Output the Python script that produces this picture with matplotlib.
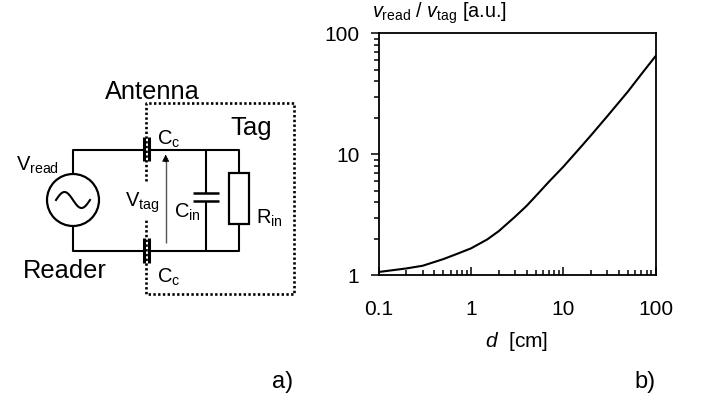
import matplotlib
matplotlib.use("Agg")
import matplotlib.pyplot as plt
from matplotlib.patches import Circle, Rectangle
from matplotlib.ticker import FixedLocator, FixedFormatter, NullFormatter
import numpy as np

plt.rcParams['font.family'] = ['Liberation Sans', 'DejaVu Sans']
plt.rcParams['mathtext.fontset'] = 'custom'
plt.rcParams['mathtext.rm'] = 'Liberation Sans'
plt.rcParams['mathtext.it'] = 'Liberation Sans:italic'
plt.rcParams['mathtext.default'] = 'regular'

# curve
d_cm = [0.1, 0.2, 0.3, 0.5, 0.7, 1, 1.5, 2, 3, 4, 5, 7, 10, 15, 20, 30, 50, 70, 100]
ratio = [1.065, 1.14, 1.2, 1.36, 1.5, 1.67, 1.98, 2.32, 3.05, 3.75, 4.5, 5.95, 7.9, 11.2, 14.4, 20.7, 33, 46, 65]
x_ticks = [0.1, 1, 10, 100]
x_labels = ['0.1', '1', '10', '100']
y_ticks = [1, 10, 100]
y_labels = ['1', '10', '100']

W, H = 701, 400
fig = plt.figure(figsize=(W / 100, H / 100), dpi=100)

# a) circuit, drawn in pixel coordinates
sk = fig.add_axes([0, 0, 1, 1])
sk.set_xlim(0, W)
sk.set_ylim(H, 0)
sk.axis('off')

def wire(xs, ys, lw=1.5, color='black', **kw):
    sk.plot(xs, ys, color=color, lw=lw, solid_capstyle='butt', **kw)

top, bot = 149.5, 251
wire([73, 73, 143], [174, top, top])
wire([149, 239, 239], [top, top, 173])
wire([73, 73, 143], [226, bot, bot])
wire([149, 239, 239], [bot, bot, 224])
wire([205.5, 205.5], [top, 193])
wire([205.5, 205.5], [201, bot])

# coupling capacitors
for y0, y1 in [(136.5, 161), (238, 263)]:
    wire([143.5, 143.5], [y0, y1], lw=2.2)
    wire([149, 149], [y0, y1], lw=2.2)

# input capacitor
wire([193, 219], [193, 193], lw=1.8)
wire([193, 219], [200.5, 200.5], lw=1.8)

# resistor
sk.add_patch(Rectangle((228.5, 173), 20.5, 51, fc='white', ec='black', lw=1.6, zorder=3))

# source
sk.add_patch(Circle((73, 200), 26, fc='white', ec='black', lw=1.6, zorder=3))
t = np.linspace(0, 2 * np.pi, 80)
sk.plot(73 + 17 * (t / np.pi - 1), 200 - 8 * np.sin(t), color='black', lw=1.5, zorder=4)

# dotted box of the tag
dot = dict(color='black', lw=1.9, ls=(0, (0.9, 0.9)), zorder=5)
sk.plot([146, 146, 294, 294, 146, 146], [181, 103, 103, 294, 294, 220], **dot)

# tag voltage arrow
wire([165.7, 165.7], [243, 160], lw=1.0, color='#555555')
sk.annotate('', xy=(165.7, 154.5), xytext=(165.7, 162),
            arrowprops=dict(arrowstyle='-|>', color='black', lw=0.5, mutation_scale=11, shrinkA=0, shrinkB=0))

def label(x, y, s, size=14.5, **kw):
    kw.setdefault('ha', 'left')
    kw.setdefault('va', 'baseline')
    sk.text(x, y, s, fontsize=size, **kw)

label(105, 99, 'Antenna', size=18.3)
label(230, 135, 'Tag', size=18.5)
label(23, 278, 'Reader', size=18.3)
label(157, 145, r'$C_{c}$')
label(157, 283, r'$C_{c}$')
label(16, 171, r'$V_{read}$')
label(125, 207, r'$V_{tag}$')
label(174, 218, r'$C_{in}$')
label(256, 224, r'$R_{in}$')
label(272, 388, 'a)', size=17)
label(634, 388, 'b)', size=17)

# b) log-log curve
left, right, y_top, y_bot = 378.7, 655.7, 33.3, 275.3
ax = fig.add_axes([left / W, 1 - y_bot / H, (right - left) / W, (y_bot - y_top) / H])
ax.patch.set_alpha(0)
ax.plot(d_cm, ratio, color='black', lw=1.5)
ax.set_xscale('log')
ax.set_yscale('log')
ax.set_xlim(0.1, 100)
ax.set_ylim(1, 100)
ax.xaxis.set_major_locator(FixedLocator(x_ticks))
ax.xaxis.set_major_formatter(FixedFormatter(x_labels))
ax.yaxis.set_major_locator(FixedLocator(y_ticks))
ax.yaxis.set_major_formatter(FixedFormatter(y_labels))
ax.xaxis.set_minor_formatter(NullFormatter())
ax.yaxis.set_minor_formatter(NullFormatter())
for s in ax.spines.values():
    s.set_linewidth(1.3)
ax.tick_params(axis='x', which='major', direction='in', length=6, width=1.1, pad=18, labelsize=15)
ax.tick_params(axis='x', which='minor', direction='in', length=3.5, width=1.1)
ax.tick_params(axis='y', which='major', direction='out', length=6, width=1.1, pad=8, labelsize=15)
ax.tick_params(axis='y', which='minor', direction='out', length=3.5, width=1.1)

sk.text(372, 18, r'$\mathit{v}_{read}$ / $\mathit{v}_{tag}$ [a.u.]', fontsize=14.3, ha='left', va='baseline')
sk.text(517, 347, r'$\mathit{d}$  [cm]', fontsize=15, ha='center', va='baseline')

fig.savefig('out.png', dpi=100)
